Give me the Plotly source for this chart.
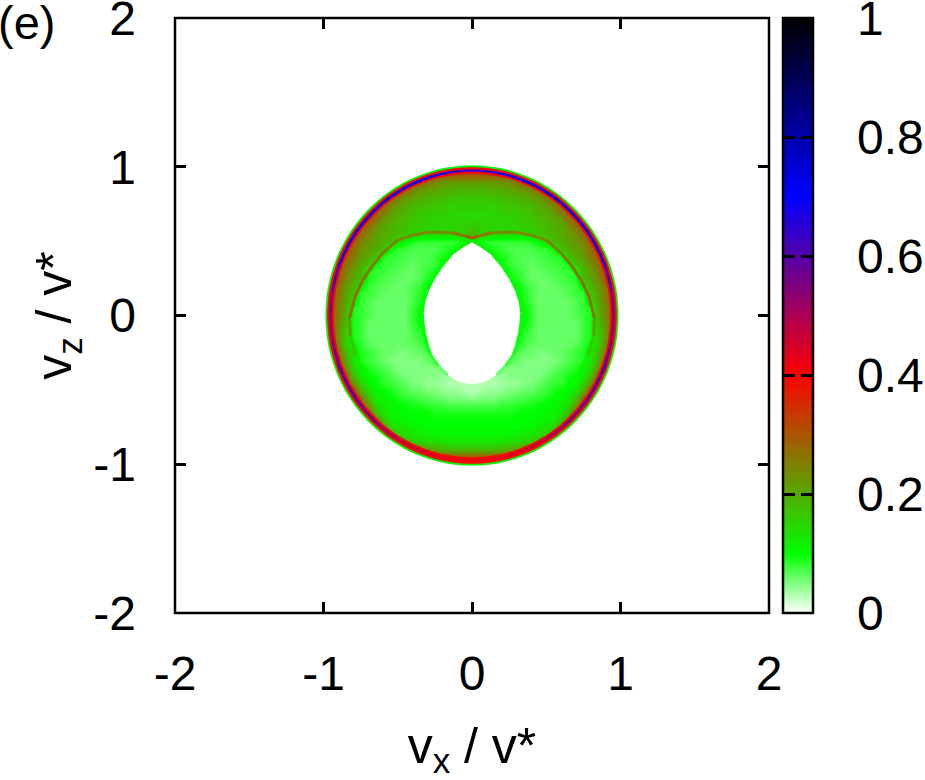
import plotly.graph_objects as go
from plotly.colors import sample_colorscale

FONT = "Liberation Sans"
colorscale = [[0, "#ffffff"], [0.1, "#00ff00"], [0.4, "#ff0000"], [0.7, "#0000ff"], [1, "#000000"]]

tick_values = [-2, -1, 0, 1, 2]
tick_labels = ["-2", "-1", "0", "1", "2"]
bar_values = [0, 0.2, 0.4, 0.6, 0.8, 1]
bar_labels = ["0", "0.2", "0.4", "0.6", "0.8", "1"]
bar_levels = [i / 200 for i in range(201)]

# Density (hundredths), for |vx| = 0, 0.05, ... 1.05.
# The picture is left/right symmetric. Rows run from vz = 1.05 down to -1.05.
vx_half = [0, .05, .1, .15, .2, .25, .3, .35, .4, .45, .5, .55, .6, .65, .7, .75, .8, .85, .9, .95, 1.0, 1.05]
vz_rows = [1.05, 1.0, .95, .9, .85, .8, .75, .7, .65, .6, .55, .5, .45, .4, .35, .3, .25, .2, .15, .1, .05, 0,
           -.05, -.1, -.15, -.2, -.25, -.3, -.35, -.4, -.45, -.5, -.55, -.6, -.65, -.7, -.75, -.8, -.85, -.9, -.95, -1.0, -1.05]
density_rows = [
    [30], [30], [30],
    [22, 22, 22, 22, 23, 24, 27, 30],
    [19, 19, 19, 20, 20, 21, 22, 23, 25, 30],
    [17, 17, 17, 18, 18, 19, 19, 20, 21, 23, 27, 30],
    [16, 16, 16, 16, 17, 17, 18, 18, 19, 20, 22, 25, 30],
    [15, 15, 15, 15, 16, 16, 16, 17, 18, 19, 20, 22, 26, 30],
    [15, 15, 15, 15, 15, 15, 16, 16, 17, 18, 19, 20, 22, 27, 30],
    [16, 16, 15, 15, 15, 15, 15, 16, 16, 17, 18, 19, 20, 23, 27, 30],
    [20, 15, 15, 14, 14, 14, 14, 14, 15, 17, 18, 19, 20, 21, 24, 28, 30],
    [15, 10, 8, 8, 8, 8, 8, 8, 9, 10, 14, 18, 19, 21, 22, 25, 30],
    [10, 10, 10, 9, 8, 7, 7, 7, 7, 8, 8, 10, 18, 20, 21, 23, 27, 30],
    [10, 10, 10, 10, 9, 8, 7, 7, 7, 7, 8, 8, 9, 18, 20, 22, 26, 30],
    [10, 10, 10, 10, 10, 8, 7, 7, 6, 7, 7, 8, 8, 10, 18, 20, 23, 28, 30],
    [10, 10, 10, 10, 10, 9, 8, 7, 6, 6, 7, 7, 8, 8, 10, 19, 21, 26, 30],
    [10, 10, 10, 10, 10, 10, 9, 7, 6, 6, 6, 7, 7, 8, 9, 18, 20, 24, 30],
    [10, 10, 10, 10, 10, 10, 10, 8, 7, 6, 6, 6, 7, 7, 8, 12, 19, 22, 27, 30],
    [10, 10, 10, 10, 10, 10, 10, 9, 7, 6, 6, 6, 6, 7, 8, 8, 17, 21, 26, 30],
    [10, 10, 10, 10, 10, 10, 10, 9, 7, 6, 6, 6, 6, 6, 7, 8, 14, 21, 25, 30],
    [10, 10, 10, 10, 10, 10, 10, 10, 8, 6, 6, 6, 6, 6, 7, 8, 9, 20, 24, 30],
    [10, 10, 10, 10, 10, 10, 10, 10, 8, 6, 6, 6, 6, 6, 7, 8, 9, 19, 24, 30],
    [10, 10, 10, 10, 10, 10, 10, 10, 8, 6, 6, 6, 6, 6, 6, 8, 9, 18, 23, 30],
    [10, 10, 10, 10, 10, 10, 10, 9, 7, 6, 6, 6, 6, 6, 6, 8, 9, 17, 22, 30],
    [10, 10, 10, 10, 10, 10, 10, 8, 7, 6, 6, 6, 6, 6, 6, 8, 9, 16, 22, 30],
    [10, 10, 10, 10, 10, 10, 9, 7, 6, 6, 6, 6, 6, 6, 7, 8, 11, 16, 24, 30],
    [10, 10, 10, 10, 10, 9, 7, 6, 6, 5, 5, 6, 6, 7, 8, 9, 13, 18, 27, 30],
    [7, 7, 7, 7, 7, 7, 6, 5, 5, 5, 5, 5, 6, 7, 8, 9, 13, 20, 30],
    [5, 5, 5, 5, 5, 5, 5, 5, 5, 5, 5, 6, 7, 8, 9, 11, 14, 24, 30],
    [4, 4, 4, 4, 4, 5, 5, 5, 5, 5, 6, 7, 8, 9, 10, 12, 17, 30],
    [3, 3, 3, 3, 4, 4, 4, 5, 5, 6, 7, 8, 8, 10, 11, 15, 22, 30],
    [3, 3, 4, 4, 4, 5, 5, 6, 6, 7, 8, 9, 10, 11, 13, 19, 30],
    [4, 5, 5, 5, 6, 6, 7, 7, 8, 8, 9, 10, 11, 12, 17, 28, 30],
    [7, 7, 7, 7, 8, 8, 8, 9, 9, 10, 10, 11, 12, 14, 22, 30],
    [9, 9, 9, 9, 9, 9, 10, 10, 10, 10, 11, 11, 13, 18, 30],
    [10, 10, 10, 10, 10, 10, 10, 10, 10, 11, 11, 12, 16, 25, 30],
    [10, 10, 10, 10, 10, 10, 10, 11, 11, 12, 13, 15, 21, 30],
    [11, 11, 11, 11, 11, 11, 12, 12, 13, 14, 16, 20, 30],
    [13, 13, 13, 13, 13, 14, 14, 15, 16, 18, 22, 30],
    [18, 18, 18, 18, 19, 20, 22, 25, 30],
    [30], [30], [30],
]

# Outer rim, right half: upper quarter from the top down to vz = 0
rim_x_upper = [0, .083, .165, .247, .326, .403, .477, .547, .613, .674, .730, .781, .825, .864, .896, .921, .939, .949, .953]
rim_z_upper = [.975, .971, .960, .942, .916, .884, .844, .799, .747, .689, .627, .559, .488, .412, .333, .252, .169, .085, 0]
# Crest value along the rim, from the top to the bottom
rim_peak = [.62, .62, .68, .68, .70, .70, .72, .72, .72, .72, .70, .70, .68, .68, .62, .62, .56, .56,
            .55, .56, .58, .60, .62, .62, .62, .60, .58, .56, .52, .50, .48, .46, .44, .43, .42, .42]

# Inner arc, right half from the cusp going down
arc_x = [0, .05, .125, .2, .3, .4, .505, .6, .667, .74, .79, .825, .82, .78, .73]
arc_z = [.52, .535, .555, .56, .56, .54, .505, .42, .34, .23, .12, -.02, -.14, -.27, -.37]
arc_val = [.29, .26, .24, .24, .24, .24, .25, .26, .27, .28, .27, .22, .17, .12]

# Empty centre, right half from the cusp going down
hole_x = [0, .06, .13, .20, .26, .30, .325, .335, .33, .32, .30, .275, .225, .165, .10, .05, 0]
hole_z = [.505, .47, .42, .34, .25, .17, .09, .02, -.05, -.12, -.20, -.27, -.34, -.40, -.44, -.455, -.46]
hole_edge = [.12, .11, .1, .1, .1, .1, .1, .1, .1, .1, .09, .08, .06]


def col(value):
    return sample_colorscale(colorscale, [value])[0]


def line_trace(xs, zs, color, width, shape="linear"):
    return go.Scatter(x=xs, y=zs, mode="lines", line=dict(color=color, width=width, shape=shape),
                      hoverinfo="skip", showlegend=False)


rim_x = rim_x_upper + rim_x_upper[-2::-1]
rim_z = rim_z_upper + [-v for v in rim_z_upper[-2::-1]]
edge_x = rim_x + [-v for v in rim_x[::-1]]
edge_z = rim_z + rim_z[::-1]

z_table = []
for row in density_rows:
    padded = row + [row[-1]] * (len(vx_half) - len(row))
    z_table.append([v / 100 for v in padded[:0:-1] + padded])
vx_full = [-x for x in vx_half[:0:-1]] + vx_half

fig = go.Figure()
fig.add_trace(go.Heatmap(x=vx_full, y=vz_rows, z=z_table, zmin=0, zmax=1, colorscale=colorscale,
                         zsmooth="best", hoverinfo="skip", showscale=False))

# white surround so that the disc has a sharp edge (ring-shaped: rectangle one way, disc the other)
mask_x = [0, -1.1, -1.1, 1.1, 1.1, 0] + [x * 1.025 for x in edge_x]
mask_z = [1.1, 1.1, -1.1, -1.1, 1.1, 1.1] + [z * 1.025 for z in edge_z]
fig.add_trace(go.Scatter(x=mask_x, y=mask_z, mode="lines", fill="toself", fillcolor="white",
                         line=dict(width=0), hoverinfo="skip", showlegend=False))

# white centre
hx = hole_x + [-x for x in hole_x[::-1]]
hz = hole_z + hole_z[::-1]
fig.add_trace(go.Scatter(x=hx, y=hz, mode="lines", fill="toself", fillcolor="white",
                         line=dict(width=0), hoverinfo="skip", showlegend=False))
for sign in (1, -1):
    for i, v in enumerate(hole_edge):
        fig.add_trace(line_trace([sign * hole_x[i], sign * hole_x[i + 1]], [hole_z[i], hole_z[i + 1]], col(v), 3))

# inner arc
for sign in (1, -1):
    for i, v in enumerate(arc_val):
        fig.add_trace(line_trace([sign * arc_x[i], sign * arc_x[i + 1]], [arc_z[i], arc_z[i + 1]], col(v), 3))

# rim: thin green fringe outside, red band, coloured crest
fig.add_trace(line_trace([x * 1.027 for x in edge_x], [z * 1.027 for z in edge_z], col(.12), 2.5, "spline"))
fig.add_trace(line_trace(edge_x, edge_z, col(.39), 6.5, "spline"))
for sign in (1, -1):
    for i, v in enumerate(rim_peak):
        fig.add_trace(line_trace([sign * rim_x[i], sign * rim_x[i + 1]], [rim_z[i], rim_z[i + 1]], col(v), 2.5))

# colour bar drawn on its own pair of axes, so that its ticks sit on both edges
fig.add_trace(go.Heatmap(x=[0, 1], y=bar_levels, z=[[v, v] for v in bar_levels], zmin=0, zmax=1,
                         colorscale=colorscale, showscale=False, hoverinfo="skip",
                         xaxis="x2", yaxis="y2"))

axis_style = dict(
    tickmode="array", ticks="inside", ticklen=11, tickwidth=2.5, tickcolor="black",
    showline=False, mirror="ticks", showgrid=False, zeroline=False, ticklabeloverflow="allow",
    tickfont=dict(family=FONT, size=48, color="black"),
    title_font=dict(family=FONT, size=50, color="black"),
)
PAPER_W = 638
fig.update_layout(
    xaxis=dict(domain=[0, 594 / PAPER_W], range=[-2, 2], tickvals=tick_values, ticktext=tick_labels,
               title_text="v<sub>x</sub> / v*", title_standoff=28, ticklabelstandoff=28, **axis_style),
    yaxis=dict(range=[-2, 2], tickvals=tick_values, ticktext=tick_labels,
               title_text="v<sub>z</sub> / v*", title_standoff=5, ticklabelstandoff=38, **axis_style),
    xaxis2=dict(domain=[608 / PAPER_W, 1], range=[-.5, 1.5], showticklabels=False, ticks="", showgrid=False,
                zeroline=False, showline=False, anchor="y2"),
    yaxis2=dict(range=[0, 1], side="right", anchor="x2", tickvals=bar_values, ticktext=bar_labels,
                ticklabelstandoff=43, **{**axis_style, "ticklen": 12}),
    width=925, height=780, autosize=False,
    margin=dict(l=175, r=112, t=18, b=167, pad=0, autoexpand=False),
    paper_bgcolor="white", plot_bgcolor="white", showlegend=False,
    shapes=[
        dict(type="rect", xref="paper", yref="paper", x0=0, x1=594 / PAPER_W, y0=0, y1=1,
             line=dict(color="black", width=2.5), layer="above"),
        dict(type="rect", xref="paper", yref="paper", x0=608 / PAPER_W, x1=1, y0=0, y1=1,
             line=dict(color="black", width=2.5), layer="above"),
    ],
    annotations=[dict(text="(e)", xref="paper", yref="paper", x=-175 / PAPER_W, y=1 + 18 / 595,
                      xanchor="left", yanchor="top", showarrow=False, xshift=-4, yshift=6,
                      font=dict(family=FONT, size=47, color="black"))],
)
fig.write_html("out.html", config=dict(displayModeBar=False), post_script="document.body.style.margin='0';")
